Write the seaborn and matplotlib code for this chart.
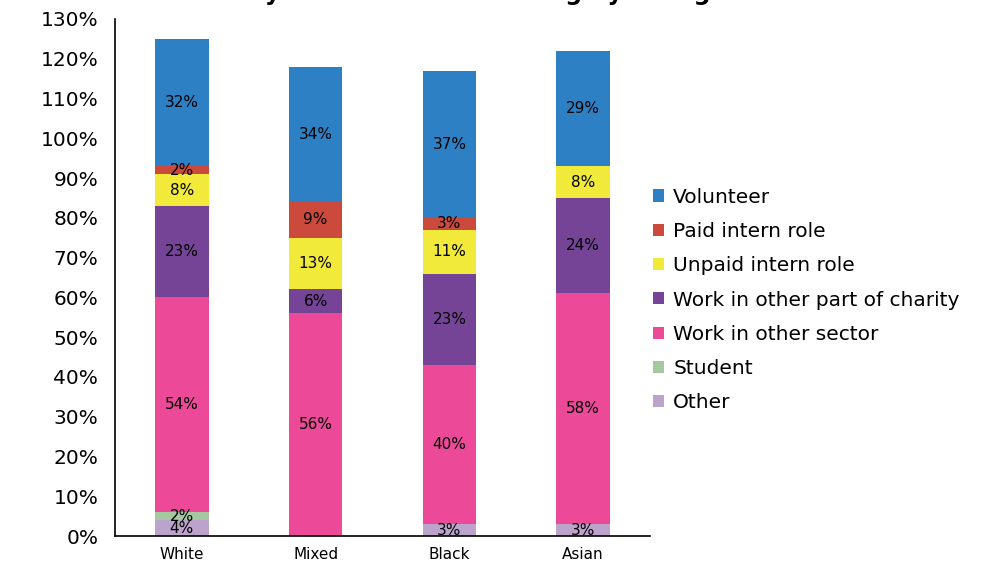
import numpy as np
import matplotlib
matplotlib.use('Agg')
import matplotlib.pyplot as plt
import seaborn as sns

# Data (percentages)
groups = ['White', 'Mixed', 'Black', 'Asian']
other = [4, 0, 3, 3]
student = [2, 0, 0, 0]
other_sector = [54, 56, 40, 58]
other_charity = [23, 6, 23, 24]
unpaid_intern = [8, 13, 11, 8]
paid_intern = [2, 9, 3, 0]
volunteer = [32, 34, 37, 29]

# bottom-to-top stacking order
series_names = ['Other', 'Student', 'Work in other sector', 'Work in other part of charity',
                'Unpaid intern role', 'Paid intern role', 'Volunteer']
series_vals = [other, student, other_sector, other_charity, unpaid_intern, paid_intern, volunteer]
colors = ['#BBA3CC', '#A5C8A0', '#EC4A98', '#754497', '#F2EA3B', '#CB4A3B', '#2C80C3']

sns.set_style('white')
plt.rcParams['font.family'] = ['DejaVu Sans']
plt.rcParams['text.color'] = 'black'
plt.rcParams['xtick.color'] = 'black'
plt.rcParams['ytick.color'] = 'black'

fig = plt.figure(figsize=(9.98, 5.67), dpi=100)
ax = fig.add_axes([115 / 998, 1 - 536 / 567, 535 / 998, 517 / 567])

vals = np.array(series_vals, dtype=float)
cum = vals.cumsum(axis=0)

# draw cumulative totals from the top layer down so the stack shows
for i in range(len(series_names) - 1, -1, -1):
    sns.barplot(x=groups, y=cum[i], color=colors[i], saturation=1, width=0.4,
                linewidth=0, label=series_names[i], ax=ax)

# segment labels
for i in range(len(series_names)):
    for j in range(len(groups)):
        v = vals[i, j]
        if v > 0:
            ax.text(j, cum[i, j] - v / 2, f'{int(v)}%', ha='center', va='center',
                    fontsize=11, color='black')

ax.set_ylim(0, 130)
ax.set_xlim(-0.5, 3.5)
ax.set_yticks(range(0, 131, 10))
ax.set_yticklabels([f'{t}%' for t in range(0, 131, 10)], fontsize=14.5)
ax.set_xticks(range(len(groups)))
ax.set_xticklabels(groups, fontsize=11)
ax.set_xticks([-0.5, 0.5, 1.5, 2.5, 3.5], minor=True)
ax.tick_params(axis='x', which='major', length=0, pad=8)
ax.tick_params(axis='x', which='minor', length=6, width=1.2, direction='out', color='black')
ax.tick_params(axis='y', length=6, width=1.2, direction='out', color='black', pad=6)
ax.set_xlabel('')
ax.set_ylabel('')
sns.despine(ax=ax)
for s in ['left', 'bottom']:
    ax.spines[s].set_color('black')
    ax.spines[s].set_linewidth(1.2)

leg = ax.legend(loc='center left', bbox_to_anchor=(653 / 998, 1 - 300 / 567),
                bbox_transform=fig.transFigure, frameon=False, fontsize=14.5,
                handlelength=0.55, handleheight=0.55, handletextpad=0.45,
                labelspacing=0.76, borderaxespad=0, borderpad=0)
for t in leg.get_texts():
    t.set_color('black')

# title is cut off at the top edge in the reference
fig.text(0.5, 1.0, 'Entry route into fundraising by background', ha='center',
         va='baseline', fontsize=17, fontweight='bold')

fig.savefig('out.png', dpi=100)
